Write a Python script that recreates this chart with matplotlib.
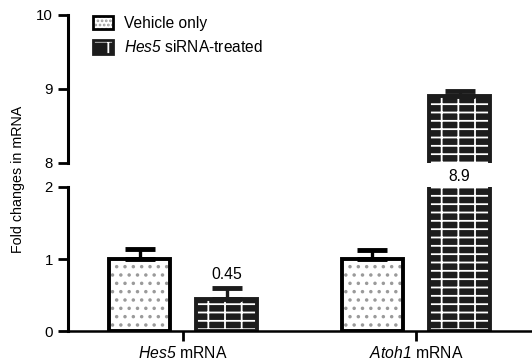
import matplotlib
matplotlib.use('Agg')
import matplotlib.pyplot as plt
from matplotlib.patches import Patch
from matplotlib.legend_handler import HandlerTuple
import numpy as np

plt.rcParams['font.family'] = 'Liberation Sans'
plt.rcParams['mathtext.fontset'] = 'custom'
plt.rcParams['mathtext.rm'] = 'Liberation Sans'
plt.rcParams['mathtext.sf'] = 'Liberation Sans:italic'
plt.rcParams['hatch.linewidth'] = 1.3

# data
groups = [r'$\mathsf{Hes5}$ mRNA', r'$\mathsf{Atoh1}$ mRNA']
vehicle = [1.0, 1.0]
vehicle_err = [0.14, 0.12]
sirna = [0.45, 8.9]
sirna_err = [0.15, 0.07]
labels = ['Vehicle only', r'$\mathsf{Hes5}$ siRNA-treated']

fig = plt.figure(figsize=(5.32, 3.63), dpi=100)
ax_lo = fig.add_axes([0.128, 0.088, 0.872, 0.397])
ax_hi = fig.add_axes([0.128, 0.551, 0.872, 0.408])

x = np.arange(len(groups))
w = 0.26
off = 0.187
dark = '#1c1c1c'
dots = '#9a9a9a'
bricks = '--|'

for ax in (ax_lo, ax_hi):
    # vehicle bars: white with grey dots
    ax.bar(x - off, vehicle, w, color='white', edgecolor=dots, hatch='..', lw=0)
    ax.bar(x - off, vehicle, w, fill=False, edgecolor='black', lw=2.8)
    ax.errorbar(x - off, vehicle, yerr=[np.zeros(2), vehicle_err], fmt='none',
                ecolor='black', elinewidth=2.4, capsize=11, capthick=3.5)
    # siRNA bars: dark with white bricks
    ax.bar(x + off, sirna, w, color=dark, edgecolor='white', hatch=bricks, lw=0)
    ax.bar(x + off, sirna, w, fill=False, edgecolor=dark, lw=2.8)
    ax.errorbar(x + off, sirna, yerr=[np.zeros(2), sirna_err], fmt='none',
                ecolor=dark, elinewidth=2.4, capsize=11, capthick=3.5)
    ax.set_xlim(-0.494, 1.498)
    for s in ('top', 'right'):
        ax.spines[s].set_visible(False)
    ax.spines['left'].set_linewidth(2.2)
    ax.tick_params(axis='y', length=7, width=2, labelsize=10.8, pad=4)
    ax.patch.set_alpha(0)

ax_lo.set_ylim(0, 2)
ax_lo.set_yticks([0, 1, 2])
ax_lo.spines['bottom'].set_linewidth(1.8)
ax_lo.set_xticks(x)
ax_lo.set_xticklabels(groups, fontsize=11.3)
ax_lo.tick_params(axis='x', length=7, width=2, pad=3)

ax_hi.set_ylim(8, 10)
ax_hi.set_yticks([8, 9, 10])
ax_hi.spines['bottom'].set_visible(False)
ax_hi.set_xticks([])

# value labels
ax_lo.text(x[0] + off, 0.78, '0.45', ha='center', va='center', fontsize=11.3)
ax_lo.text(x[1] + off, 2.15, '8.9', ha='center', va='center', fontsize=11.3,
           clip_on=False)

fig.text(0.033, 0.505, 'Fold changes in mRNA', rotation=90, ha='center',
         va='center', fontsize=10.3)

h1 = (Patch(facecolor='white', edgecolor=dots, hatch='....', lw=0),
      Patch(fill=False, edgecolor='black', lw=2))
h2 = (Patch(facecolor=dark, edgecolor='white', hatch='-|', lw=0),
      Patch(fill=False, edgecolor=dark, lw=2))
leg = fig.legend([h1, h2], labels, loc='upper left', bbox_to_anchor=(0.175, 0.957),
                 frameon=False, fontsize=11.2, handlelength=1.3, handleheight=0.95,
                 handletextpad=0.7, labelspacing=0.55, borderpad=0, borderaxespad=0,
                 handler_map={tuple: HandlerTuple(ndivide=1)})
fig.savefig('out.png', dpi=100, facecolor='white')
